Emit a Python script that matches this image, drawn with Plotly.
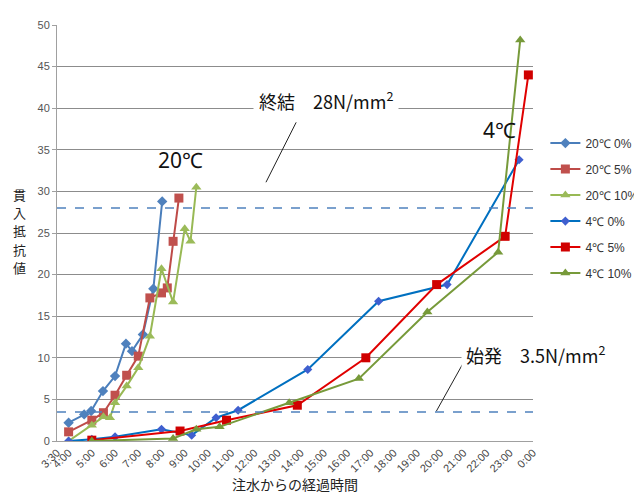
import plotly.graph_objects as go

# hours after 0:00 (x), penetration resistance N/mm2 (y)
x_20_0 = [4.0, 4.67, 4.97, 5.48, 6.0, 6.47, 6.73, 7.2, 7.65, 8.03]
y_20_0 = [2.2, 3.2, 3.6, 6.0, 7.8, 11.7, 10.8, 12.8, 18.3, 28.8]

x_20_5 = [4.0, 5.0, 5.5, 6.0, 6.5, 7.0, 7.5, 8.0, 8.25, 8.5, 8.75]
y_20_5 = [1.1, 2.5, 3.4, 5.5, 7.9, 10.2, 17.2, 17.8, 18.4, 24.0, 29.2]

x_20_10 = [4.0, 5.0, 5.5, 5.78, 6.0, 6.5, 7.0, 7.5, 8.0, 8.5, 9.0, 9.25, 9.5]
y_20_10 = [0.0, 1.9, 2.9, 2.8, 4.6, 6.6, 8.8, 12.6, 20.7, 16.7, 25.5, 24.0, 30.5]

x_4_0 = [4.0, 5.0, 6.0, 8.0, 9.3, 10.35, 11.3, 14.3, 17.35, 20.3, 23.4]
y_4_0 = [0.0, 0.2, 0.5, 1.4, 0.7, 2.8, 3.7, 8.6, 16.8, 18.8, 33.8]

x_4_5 = [5.0, 8.8, 10.8, 13.85, 16.8, 19.85, 22.8, 23.8]
y_4_5 = [0.1, 1.2, 2.5, 4.3, 10.0, 18.8, 24.6, 44.0]

x_4_10 = [5.0, 8.5, 9.5, 10.5, 13.5, 16.5, 19.45, 22.5, 23.45]
y_4_10 = [0.0, 0.3, 1.4, 1.7, 4.6, 7.5, 15.5, 22.7, 48.2]

tick_vals = [3.5] + list(range(4, 25))
tick_text = ["3:30"] + [f"{h}:00" for h in range(4, 24)] + ["0:00"]

y_title_chars = ["貫", "入", "抵", "抗", "値"]

final_set = 28
initial_set = 3.5

series = [
    ("20℃ 0%", x_20_0, y_20_0, "#4A7EBB", "#4F81BD", "diamond", 8),
    ("20℃ 5%", x_20_5, y_20_5, "#BE4B48", "#C0504D", "square", 9),
    ("20℃ 10%", x_20_10, y_20_10, "#98B954", "#9BBB59", "triangle-up", 9),
    ("4℃ 0%", x_4_0, y_4_0, "#0070C0", "#3F5FCF", "diamond", 7),
    ("4℃ 5%", x_4_5, y_4_5, "#E00000", "#D00000", "square", 9),
    ("4℃ 10%", x_4_10, y_4_10, "#779A3A", "#779A3A", "triangle-up", 9),
]

fig = go.Figure()
for i, (name, xs, ys, lc, mc, sym, ms) in enumerate(series):
    fig.add_trace(go.Scatter(
        x=xs, y=ys, name=name, mode="lines+markers",
        line=dict(color=lc, width=2),
        marker=dict(color=mc, symbol=sym, size=ms),
        legendgroup=f"g{i}",
    ))

fig.add_shape(type="line", xref="x", yref="y", x0=3.5, x1=24, y0=final_set, y1=final_set,
              line=dict(color="#4F81BD", width=1.5, dash="dash"))
fig.add_shape(type="line", xref="x", yref="y", x0=3.5, x1=24, y0=initial_set, y1=initial_set,
              line=dict(color="#4F81BD", width=1.5, dash="dash"))
fig.add_shape(type="line", xref="x", yref="y", x0=13.8, y0=38.3, x1=12.5, y1=31.1,
              line=dict(color="#222222", width=1))
fig.add_shape(type="line", xref="x", yref="y", x0=21.2, y0=10.4, x1=19.84, y1=3.6,
              line=dict(color="#222222", width=1))

ann_font = dict(family="Noto Sans CJK JP", size=18, color="#111111")
fig.add_annotation(x=15.1, y=41.0, xref="x", yref="y", text="終結　28N/mm<sup>2</sup>",
                   showarrow=False, font=ann_font, bgcolor="white", borderpad=5)
fig.add_annotation(x=20.9, y=10.4, xref="x", yref="y", xanchor="left",
                   text="始発　3.5N/mm<sup>2</sup>", showarrow=False, font=ann_font,
                   bgcolor="white", borderpad=4)
fig.add_annotation(x=8.8, y=33.8, xref="x", yref="y", text="20℃",
                   showarrow=False, font=dict(family="Noto Sans", size=21, color="#111111"))
fig.add_annotation(x=22.54, y=37.4, xref="x", yref="y", text="4℃",
                   showarrow=False, font=dict(family="Noto Sans", size=21, color="#111111"))
fig.add_annotation(x=3.9, y=50.8, xref="x", yref="y", xanchor="left", text="N/mm<sup>2</sup>",
                   showarrow=False, font=dict(family="Liberation Serif", size=15, color="#111111"),
                   bgcolor="white", borderpad=2)
for k, ch in enumerate(y_title_chars):
    fig.add_annotation(x=-0.078, y=0.593 - k * 0.044, xref="paper", yref="paper",
                       xanchor="center", yanchor="middle", text=ch, showarrow=False,
                       borderpad=0,
                       font=dict(family="Noto Sans CJK JP", size=13, color="#222222"))

fig.update_xaxes(range=[3.5, 24], tickmode="array", tickvals=tick_vals, ticktext=tick_text,
                 tickangle=-45, showgrid=False, zeroline=False, showline=True,
                 linecolor="#A0A0A0", linewidth=1, automargin=False,
                 tickfont=dict(family="Liberation Sans", size=11, color="#444444"),
                 title=dict(text="注水からの経過時間",
                            font=dict(family="Noto Sans CJK JP", size=14, color="#222222"),
                            standoff=4))
fig.update_yaxes(range=[0, 50], dtick=5, showgrid=True, gridcolor="#8C8C8C", gridwidth=1,
                 zeroline=False, showline=True, linecolor="#A0A0A0", linewidth=1,
                 ticks="outside", ticklen=4, tickcolor="#A0A0A0", automargin=False,
                 tickfont=dict(family="Liberation Sans", size=11, color="#555555"))

# page body adds an 8px offset; figure is sized to fit the 642x503 window
fig.update_layout(
    width=634, height=495,
    margin=dict(l=49, r=109, t=17, b=62, autoexpand=False),
    plot_bgcolor="white", paper_bgcolor="white",
    legend=dict(x=1.026, xanchor="left", y=0.751, yanchor="top", tracegroupgap=7,
                font=dict(family="Liberation Sans", size=12, color="#333333"),
                bgcolor="rgba(0,0,0,0)"),
)

fig.write_html("out.html")
